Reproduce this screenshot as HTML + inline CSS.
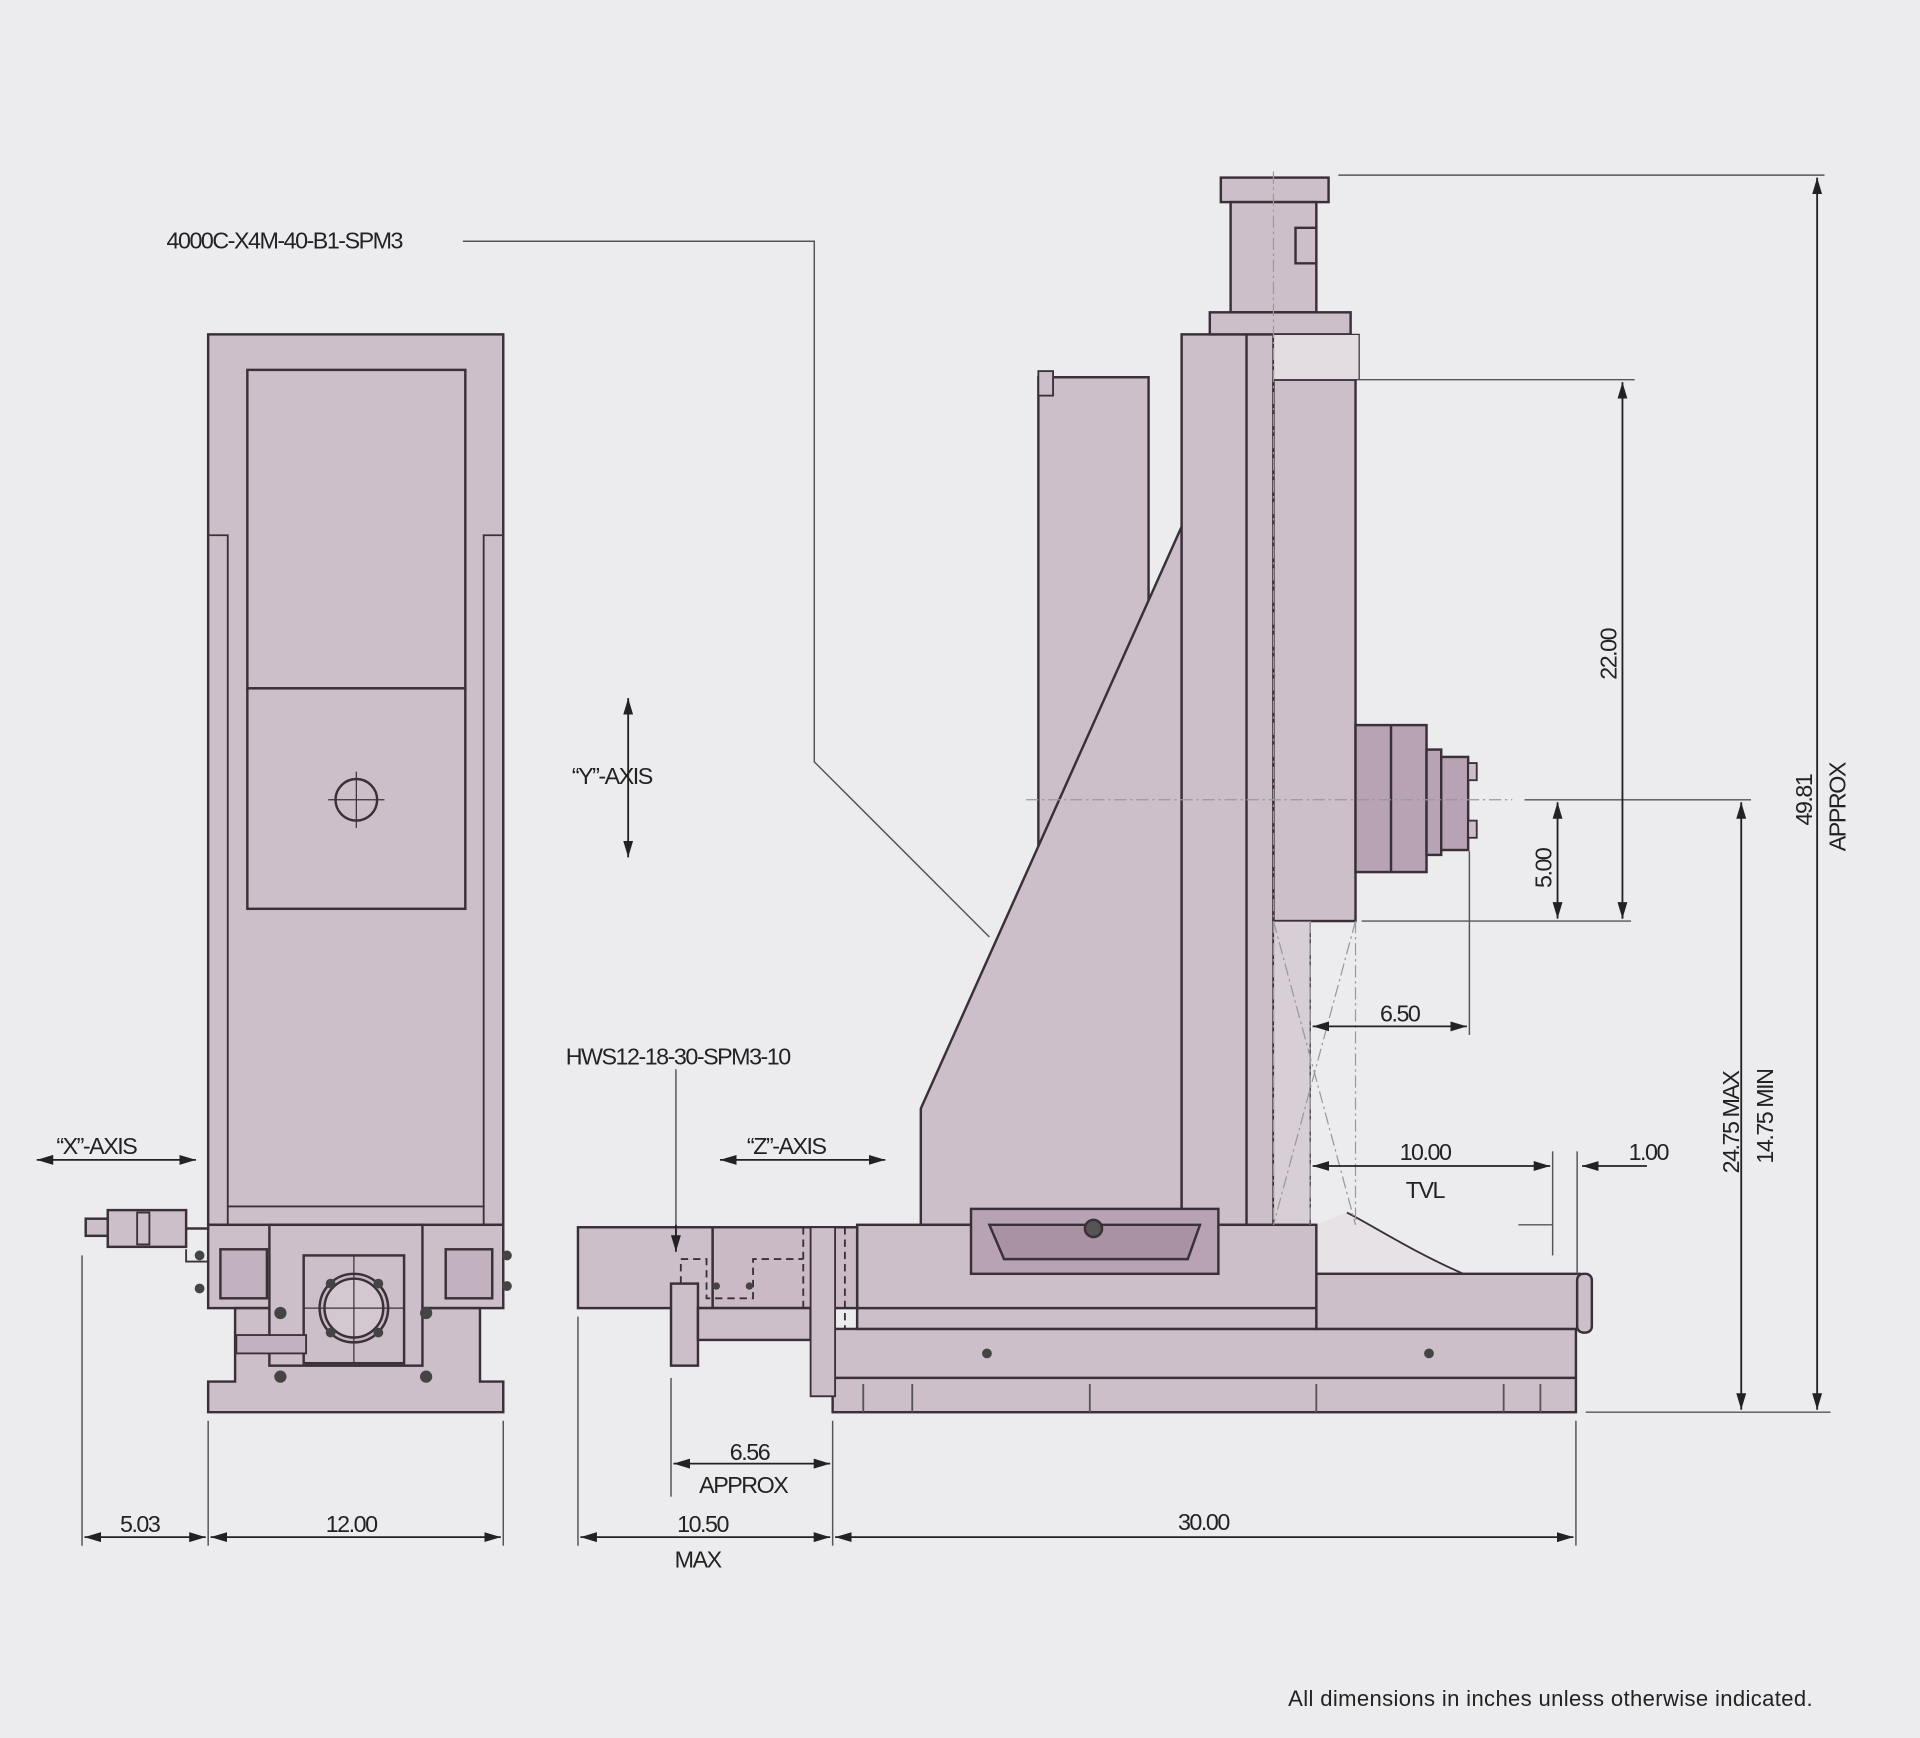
<!DOCTYPE html>
<html><head><meta charset="utf-8"><style>
html,body{margin:0;padding:0;background:#ececee;}
svg{display:block}
text{font-family:"Liberation Sans",sans-serif;font-size:19px;fill:#222;letter-spacing:-1.2px}
</style></head><body>
<svg width="1920" height="1738" viewBox="0 0 1568 1419" preserveAspectRatio="none" xmlns="http://www.w3.org/2000/svg">
<defs>
<marker id="a" viewBox="0 0 10 10" refX="10" refY="5" markerWidth="9" markerHeight="9" orient="auto-start-reverse"><path d="M0,2 L10,5 L0,8z" fill="#222"/></marker>
</defs>
<rect width="1568" height="1419" fill="#ececee"/>
<g stroke="#3a3038" stroke-width="2" fill="#cdbfc9">
<!-- LEFT VIEW -->
<rect x="170" y="273" width="241" height="727"/>
<rect x="202" y="302" width="178" height="260"/>
<rect x="202" y="562" width="178" height="180"/>
<polyline points="186,985 186,437 170,437" fill="none" stroke-width="1.5"/>
<polyline points="395,985 395,437 411,437" fill="none" stroke-width="1.5"/>
<rect x="186" y="985" width="209" height="15" stroke-width="1.5"/>
<circle cx="291" cy="653" r="17" fill="none"/>
<line x1="268" y1="653" x2="314" y2="653" stroke-width="1"/><line x1="291" y1="630" x2="291" y2="676" stroke-width="1"/>
<rect x="170" y="1000" width="241" height="68"/>
<polygon points="192,1068 392,1068 392,1128 411,1128 411,1153 170,1153 170,1128 192,1128"/>
<rect x="220" y="1000" width="125" height="115"/>
<rect x="248" y="1025" width="82" height="88"/>
<circle cx="289" cy="1068" r="28" fill="#c6b6c2"/>
<circle cx="289" cy="1068" r="24" fill="#d4c8d0"/>
<line x1="248" y1="1068" x2="330" y2="1068" stroke-width="1"/><line x1="289" y1="1025" x2="289" y2="1113" stroke-width="1"/>
<rect x="180" y="1020" width="38" height="40" fill="#c2b1be"/>
<rect x="364" y="1020" width="38" height="40" fill="#c2b1be"/>
<rect x="193" y="1090" width="57" height="15" fill="#c2b1be" stroke-width="1.5"/>
<rect x="88" y="988" width="64" height="30"/>
<rect x="70" y="995" width="18" height="14"/>
<rect x="112" y="990" width="10" height="26" stroke-width="1.5"/>
<polyline points="152,1003 170,1003" fill="none"/>
<polyline points="152,1020 152,1030 170,1030" fill="none" stroke-width="1.5"/>
</g>
<g fill="#444">
<circle cx="229" cy="1072" r="5"/><circle cx="348" cy="1072" r="5"/><circle cx="229" cy="1124" r="5"/><circle cx="348" cy="1124" r="5"/>
<circle cx="270" cy="1048" r="4"/><circle cx="309" cy="1048" r="4"/><circle cx="270" cy="1088" r="4"/><circle cx="309" cy="1088" r="4"/>
<circle cx="163" cy="1025" r="4"/><circle cx="163" cy="1052" r="4"/><circle cx="414" cy="1025" r="4"/><circle cx="414" cy="1050" r="4"/>
</g>
<!-- RIGHT VIEW -->
<g stroke="#3a3038" stroke-width="2" fill="#cdbfc9">
<rect x="848" y="308" width="90" height="560"/>
<rect x="848" y="303" width="12" height="20" stroke-width="1.5"/>
<polygon points="752,1000 752,905 965,430 965,1000"/>
<rect x="965" y="273" width="75" height="727"/>
<line x1="1018" y1="273" x2="1018" y2="1000"/>
<rect x="997" y="145" width="88" height="20"/>
<rect x="1005" y="165" width="70" height="90"/>
<polyline points="1075,186 1058,186 1058,215 1075,215" fill="none"/>
<rect x="988" y="255" width="115" height="18"/>
<rect x="1040" y="310" width="67" height="442"/>
<rect x="1040" y="273" width="70" height="37" fill="#e3dde1" stroke-width="1"/>
<rect x="1107" y="592" width="58" height="120" fill="#b7a3b3"/>
<line x1="1136" y1="592" x2="1136" y2="712"/>
<rect x="1165" y="612" width="12" height="86" fill="#b7a3b3"/>
<rect x="1177" y="618" width="22" height="76" fill="#b7a3b3"/>
<rect x="1199" y="623" width="7" height="14" stroke-width="1.5"/><rect x="1199" y="670" width="7" height="14" stroke-width="1.5"/>
<rect x="1040" y="752" width="30" height="248" fill="#d8ced5" stroke-width="1"/>
<path d="M1075,1000 L1075,1040 L1195,1040 C1150,1020 1120,1000 1100,990" fill="#e6e2e5" stroke-width="1.5"/>
<rect x="680" y="1085" width="607" height="68"/>
<line x1="680" y1="1125" x2="1287" y2="1125"/>
<rect x="1075" y="1040" width="215" height="45"/>
<rect x="1288" y="1040" width="12" height="48" rx="5"/>
<rect x="700" y="1000" width="375" height="85"/>
<line x1="700" y1="1068" x2="1075" y2="1068"/>
<rect x="472" y="1002" width="110" height="66"/>
<rect x="582" y="1002" width="118" height="66" fill="#c9bac5"/>
<rect x="548" y="1048" width="22" height="67"/>
<rect x="570" y="1068" width="92" height="26"/>
<rect x="662" y="1002" width="20" height="138" stroke-width="1.5"/>
<rect x="793" y="987" width="202" height="53" fill="#b7a3b3"/>
<polygon points="808,1000 980,1000 970,1028 820,1028" fill="#a892a4"/>
<circle cx="893" cy="1003" r="7" fill="#555"/>
</g>
<g fill="none" stroke="#3a3038" stroke-width="1.5" stroke-dasharray="6,4">
<polyline points="556,1048 556,1028 577,1028 577,1060 615,1060 615,1028 656,1028"/>
<line x1="656" y1="1002" x2="656" y2="1068"/>
<line x1="690" y1="1002" x2="690" y2="1085"/>
</g>
<g fill="#444"><circle cx="806" cy="1105" r="4"/><circle cx="1167" cy="1105" r="4"/><circle cx="585" cy="1050" r="3"/><circle cx="612" cy="1050" r="3"/></g>
<g stroke="#555" stroke-width="1.5">
<line x1="705" y1="1130" x2="705" y2="1153"/><line x1="745" y1="1130" x2="745" y2="1153"/><line x1="890" y1="1130" x2="890" y2="1153"/><line x1="1075" y1="1130" x2="1075" y2="1153"/><line x1="1228" y1="1130" x2="1228" y2="1153"/><line x1="1258" y1="1130" x2="1258" y2="1153"/>
</g>
<!-- phantom lines -->
<g fill="none" stroke="#999" stroke-width="1" stroke-dasharray="10,3,2,3">
<line x1="838" y1="653" x2="1235" y2="653"/>
<line x1="1040" y1="140" x2="1040" y2="1000"/>
<line x1="1070" y1="752" x2="1070" y2="1000"/>
<line x1="1107" y1="752" x2="1107" y2="1000"/>
<polyline points="1040,752 1107,1000"/><polyline points="1107,752 1040,1000"/>
</g>
<!-- dimension lines -->
<g stroke="#555" stroke-width="1.2" fill="none">
<line x1="1093" y1="143" x2="1490" y2="143"/>
<line x1="1110" y1="310" x2="1335" y2="310"/>
<line x1="1112" y1="752" x2="1332" y2="752"/>
<line x1="1245" y1="653" x2="1430" y2="653"/>
<line x1="1295" y1="1153" x2="1495" y2="1153"/>
<line x1="1200" y1="695" x2="1200" y2="845"/>
<line x1="1268" y1="940" x2="1268" y2="1025"/><line x1="1288" y1="940" x2="1288" y2="1040"/>
<line x1="1240" y1="1000" x2="1268" y2="1000"/>
<line x1="67" y1="1025" x2="67" y2="1262"/><line x1="170" y1="1160" x2="170" y2="1262"/><line x1="411" y1="1160" x2="411" y2="1262"/>
<line x1="472" y1="1075" x2="472" y2="1262"/><line x1="680" y1="1160" x2="680" y2="1262"/><line x1="1287" y1="1160" x2="1287" y2="1262"/>
<line x1="548" y1="1125" x2="548" y2="1222"/>
<polyline points="378,197 665,197 665,622 808,765"/>
<polyline points="552,873 552,1020"/>
</g>
<g stroke="#222" stroke-width="1.5" fill="none" marker-start="url(#a)" marker-end="url(#a)">
<line x1="1484" y1="145" x2="1484" y2="1151"/>
<line x1="1325" y1="312" x2="1325" y2="750"/>
<line x1="1272" y1="655" x2="1272" y2="750"/>
<line x1="1422" y1="655" x2="1422" y2="1151"/>
<line x1="1072" y1="838" x2="1198" y2="838"/>
<line x1="1072" y1="952" x2="1266" y2="952"/>
<line x1="69" y1="1255" x2="168" y2="1255"/>
<line x1="172" y1="1255" x2="409" y2="1255"/>
<line x1="474" y1="1255" x2="678" y2="1255"/>
<line x1="682" y1="1255" x2="1285" y2="1255"/>
<line x1="550" y1="1195" x2="678" y2="1195"/>
<line x1="513" y1="570" x2="513" y2="700"/>
<line x1="30" y1="947" x2="160" y2="947"/>
<line x1="588" y1="947" x2="723" y2="947"/>
</g>
<g stroke="#222" stroke-width="1.5" fill="none">
<line x1="1345" y1="952" x2="1292" y2="952" marker-end="url(#a)"/>
<line x1="552" y1="1000" x2="552" y2="1022" marker-end="url(#a)"/>
<line x1="1325" y1="740" x2="1325" y2="750"/>
</g>
<!-- labels -->
<text x="136" y="203">4000C-X4M-40-B1-SPM3</text>
<text x="467" y="640">“Y”-AXIS</text>
<text x="462" y="869">HWS12-18-30-SPM3-10</text>
<text x="46" y="942">“X”-AXIS</text>
<text x="610" y="942">“Z”-AXIS</text>
<text x="1127" y="834">6.50</text>
<text x="1143" y="947">10.00</text>
<text x="1148" y="978">TVL</text>
<text x="1330" y="947">1.00</text>
<text x="596" y="1192">6.56</text>
<text x="571" y="1219">APPROX</text>
<text x="98" y="1251">5.03</text>
<text x="266" y="1251">12.00</text>
<text x="553" y="1251">10.50</text>
<text x="551" y="1280">MAX</text>
<text x="962" y="1249">30.00</text>
<text transform="translate(1320,555) rotate(-90)">22.00</text>
<text transform="translate(1267,725) rotate(-90)">5.00</text>
<text transform="translate(1420,958) rotate(-90)">24.75 MAX</text>
<text transform="translate(1448,950) rotate(-90)">14.75 MIN</text>
<text transform="translate(1480,674) rotate(-90)">49.81</text>
<text transform="translate(1507,695) rotate(-90)">APPROX</text>
<text x="1052" y="1393" style="font-size:18px;letter-spacing:0.3px">All dimensions in inches unless otherwise indicated.</text>
</svg>
</body></html>
